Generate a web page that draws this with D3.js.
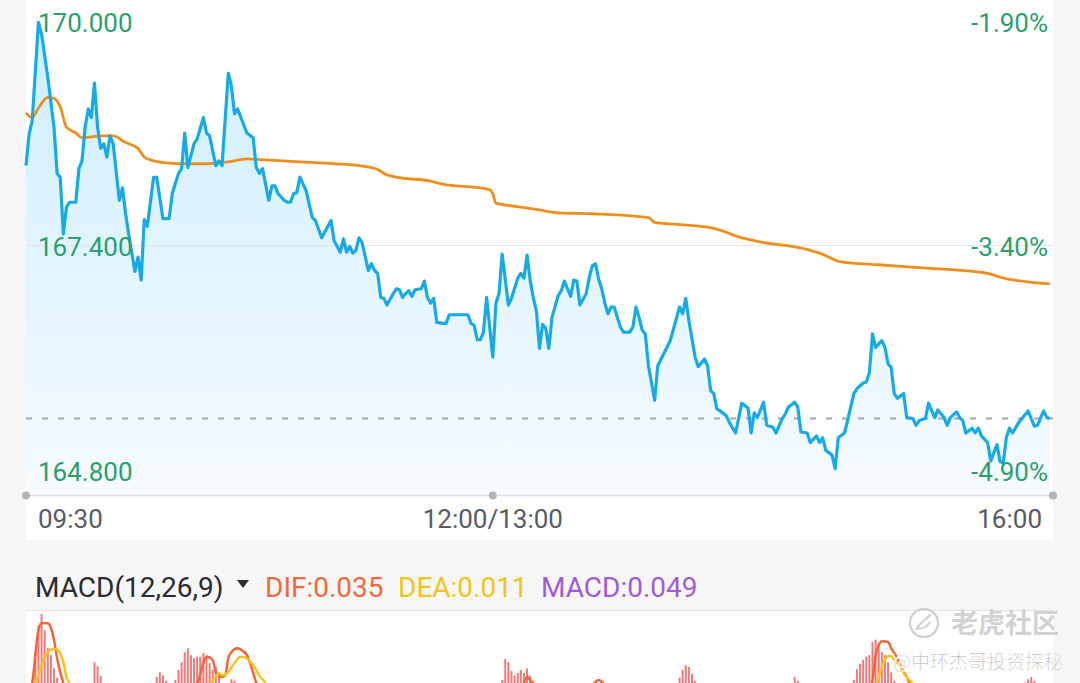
<!DOCTYPE html>
<html lang="zh">
<head>
<meta charset="utf-8">
<title>分时图 MACD</title>
<script src="https://d3js.org/d3.v7.min.js"></script>
<style>
  body { margin: 0; background: #f6f6f6; }
  svg { display: block; font-family: Roboto, "Noto Sans", sans-serif; }
</style>
</head>
<body>
<script>
// price data: trading minute since 09:30 (lunch break removed) and last price
var priceMinutes = [0,1,2,4,5,7,9,10,11,12,13,14,16,17,18,19,20,21,22,23,24,25,26,27,28,30,31,32,33,35,36,37,38,39,41,42,44,46,47,49,50,51,52,54,55,57,58,59,61,62,63,65,66,67,68,71,73,74,75,76,78,79,80,81,83,84,85,86,87,88,90,92,93,95,98,99,101,102,103,104,105,106,107,108,110,111,112,113,114,115,116,118,119,120,121,122,123,124,125,127,128,129,130,131,132,134,135,136,142,143,144,145,146,147,148,150,151,152,153,155,156,158,159,160,161,162,163,164,165,166,167,168,169,171,172,173,174,175,176,177,178,180,181,182,183,184,185,186,187,188,189,191,192,194,195,196,197,198,199,200,202,203,207,210,211,212,213,215,216,218,219,220,221,222,223,225,226,228,230,232,233,234,235,237,238,240,241,243,244,245,247,248,249,251,252,254,255,256,257,259,260,261,263,264,266,267,269,270,271,272,273,275,276,277,278,279,280,282,283,285,286,287,289,290,292,293,295,296,297,299,300,301,302,304,305,306,307,309,310,312,313,314,315,316,317,319,320,322,324,325,327,328,329];
var prices = [168.23,168.56,168.70,169.72,169.60,169.15,168.63,168.15,168.11,167.52,167.80,167.85,167.85,168.20,168.28,168.63,168.82,168.73,169.09,168.63,168.41,168.46,168.32,168.54,168.46,167.87,168.00,167.73,167.52,167.13,167.28,167.04,167.67,167.60,168.11,168.11,167.68,167.68,167.94,168.15,168.20,168.57,168.21,168.46,168.51,168.73,168.57,168.54,168.23,168.28,168.23,169.19,169.06,168.77,168.82,168.57,168.52,168.21,168.15,168.20,167.87,168.02,168.02,167.94,167.87,167.85,167.85,167.94,167.95,168.11,167.97,167.69,167.66,167.48,167.66,167.45,167.33,167.47,167.33,167.39,167.32,167.35,167.48,167.43,167.14,167.21,167.14,167.11,166.86,166.85,166.78,166.90,166.95,166.94,166.86,166.90,166.93,166.87,166.94,166.95,167.03,166.86,166.80,166.85,166.60,166.59,166.59,166.68,166.68,166.59,166.57,166.42,166.42,166.50,166.86,166.24,166.80,166.90,167.31,166.78,166.85,167.06,167.11,167.06,167.30,167.04,166.86,166.72,166.33,166.58,166.54,166.33,166.65,166.88,166.93,167.03,166.95,166.87,167.04,167.03,166.78,166.90,167.07,167.19,167.21,167.05,166.95,166.80,166.69,166.76,166.76,166.55,166.50,166.50,166.55,166.76,166.65,166.52,166.48,166.15,165.79,166.15,166.41,166.76,166.69,166.85,166.62,166.24,166.14,166.22,166.15,165.89,165.86,165.70,165.68,165.63,165.56,165.45,165.76,165.71,165.45,165.66,165.61,165.77,165.53,165.51,165.45,165.60,165.65,165.72,165.77,165.72,165.46,165.45,165.35,165.42,165.35,165.40,165.27,165.22,165.08,165.40,165.45,165.58,165.86,165.91,165.97,165.98,166.08,166.48,166.34,166.41,166.34,166.17,166.13,165.86,165.81,165.86,165.61,165.60,165.53,165.58,165.60,165.76,165.61,165.69,165.61,165.53,165.61,165.67,165.61,165.58,165.45,165.50,165.45,165.50,165.42,165.35,165.16,165.33,165.15,165.14,165.40,165.50,165.45,165.56,165.60,165.68,165.52,165.53,165.68,165.61,165.60];

// average price line
var avgMinutes = [0,2,4,7,9,11,13,16,18,24,28,32,36,38,40,45,52,58,65,71,77,88,99,107,113,115,119,130,135,143,149,150,151,159,165,171,182,200,202,209,219,223,229,234,252,255,262,274,287,309,313,329];
var avgPrices = [168.78,168.73,168.83,168.94,168.93,168.84,168.63,168.57,168.52,168.54,168.54,168.47,168.41,168.32,168.29,168.26,168.25,168.25,168.27,168.30,168.29,168.27,168.25,168.23,168.19,168.15,168.11,168.07,168.03,168.01,167.98,167.94,167.84,167.80,167.77,167.74,167.73,167.69,167.64,167.62,167.59,167.56,167.49,167.45,167.35,167.32,167.23,167.20,167.17,167.11,167.07,167.00];

var priceTicks = [170.000, 167.400, 164.800];
var pctLabels = ["-1.90%", "-3.40%", "-4.90%"];
var timeTickMinutes = [0, 150, 330];
var timeTickLabels = ["09:30", "12:00/13:00", "16:00"];

// MACD histogram (only the part that shows above the panel edge)
var barMinutes = [2,3,4,5,6,7,8,9,10,21,22,23,24,42,43,44,45,48,49,50,51,52,53,54,55,56,57,58,59,60,61,62,66,67,153,154,155,156,157,158,159,160,161,162,163,210,211,212,213,214,215,246,247,248,266,267,268,269,270,271,272,273,274,275,276,277,278,279,321,322,323,324];
var barValues = [0.044,0.081,0.115,0.130,0.109,0.086,0.077,0.060,0.048,0.041,0.068,0.063,0.050,0.049,0.055,0.051,0.044,0.045,0.058,0.068,0.081,0.086,0.077,0.073,0.075,0.075,0.080,0.077,0.067,0.058,0.062,0.051,0.046,0.044,0.045,0.072,0.068,0.057,0.051,0.054,0.058,0.054,0.060,0.051,0.044,0.048,0.058,0.064,0.062,0.053,0.044,0.041,0.049,0.044,0.045,0.059,0.066,0.071,0.075,0.077,0.094,0.097,0.090,0.081,0.077,0.068,0.055,0.044,0.042,0.046,0.049,0.044];

var difMinutes = [0,2,4,5,7,8,9,10,12,14,20,30,40,50,55,57,58,60,61,63,64,65,66,68,69,71,72,74,76,90,120,150,158,160,161,163,166,175,182,184,186,200,230,260,268,271,272,273,274,275,277,278,280,281,283,284,286,300,329];
var difValues = [0.010,0.041,0.109,0.118,0.118,0.112,0.097,0.073,0.041,0.019,0.005,0.010,0.020,0.030,0.041,0.067,0.075,0.071,0.055,0.049,0.051,0.073,0.081,0.086,0.084,0.077,0.067,0.041,0.020,0.000,0.000,0.020,0.030,0.041,0.049,0.039,0.030,0.030,0.039,0.045,0.039,0.020,0.000,0.010,0.020,0.035,0.045,0.077,0.090,0.095,0.094,0.086,0.073,0.063,0.049,0.040,0.025,0.020,0.035];

var deaMinutes = [0,3,5,7,9,10,12,13,14,16,30,45,59,61,62,63,65,67,69,71,73,75,77,80,120,160,200,250,273,275,276,277,278,279,281,282,285,288,310,329];
var deaValues = [0.020,0.041,0.064,0.081,0.085,0.084,0.068,0.049,0.040,0.020,0.015,0.020,0.041,0.049,0.054,0.051,0.055,0.067,0.075,0.073,0.064,0.051,0.041,0.020,0.020,0.025,0.020,0.015,0.039,0.062,0.071,0.076,0.076,0.071,0.062,0.054,0.040,0.020,0.010,0.011];

var macdTitle = "MACD(12,26,9)";
var difLast = 0.035, deaLast = 0.011, macdLast = 0.049;

var w = 1080, h = 683;
var left = 26, right = 1053;
var green = "#2b9f6c";

var svg = d3.select("body").append("svg").attr("width", w).attr("height", h);

svg.append("rect").attr("width", w).attr("height", h).attr("fill", "#f6f6f6");
svg.append("rect").attr("x", left).attr("y", 0).attr("width", right - left).attr("height", 540).attr("fill", "#fff");
svg.append("rect").attr("x", left).attr("y", 611).attr("width", right - left).attr("height", h - 611).attr("fill", "#fff");
svg.append("line").attr("x1", left).attr("x2", right).attr("y1", 610.5).attr("y2", 610.5)
  .attr("stroke", "#e2e2e2").attr("stroke-width", 1);

var x = d3.scaleLinear().domain([0, 330]).range([left, right]);
var y = d3.scaleLinear().domain([164.8, 170]).range([495.5, -4.5]);

var pts = priceMinutes.map(function (m, i) { return { m: m, p: prices[i] }; });
var avgPts = avgMinutes.map(function (m, i) { return { m: m, p: avgPrices[i] }; });

// gradient for the area
var defs = svg.append("defs");
var grad = defs.append("linearGradient").attr("id", "fillGrad")
  .attr("gradientUnits", "userSpaceOnUse")
  .attr("x1", 0).attr("y1", 0).attr("x2", 0).attr("y2", y(164.8));
grad.append("stop").attr("offset", "0%").attr("stop-color", "#cbedfc");
grad.append("stop").attr("offset", "100%").attr("stop-color", "#f6fbff");

var area = d3.area().x(function (d) { return x(d.m); }).y0(y(164.8)).y1(function (d) { return y(d.p); });
svg.append("path").datum(pts).attr("d", area).attr("fill", "url(#fillGrad)");

// grid + axis line
svg.append("line").attr("x1", left).attr("x2", right).attr("y1", y(167.4)).attr("y2", y(167.4))
  .attr("stroke", "#e3e3e3").attr("stroke-width", 1);
svg.append("line").attr("x1", left).attr("x2", right).attr("y1", y(164.8)).attr("y2", y(164.8))
  .attr("stroke", "#dedede").attr("stroke-width", 1.5);
svg.selectAll("circle.tick").data(timeTickMinutes).enter().append("circle")
  .attr("cx", function (d) { return x(d); }).attr("cy", y(164.8)).attr("r", 4).attr("fill", "#b3b3b3");

// last price dashed line
var last = prices[prices.length - 1];
svg.append("line").attr("x1", left).attr("x2", right).attr("y1", y(last)).attr("y2", y(last))
  .attr("stroke", "#a3a7b0").attr("stroke-width", 2).attr("stroke-dasharray", "6,10");

var line = d3.line().x(function (d) { return x(d.m); }).y(function (d) { return y(d.p); });
svg.append("path").datum(avgPts).attr("d", line.curve(d3.curveMonotoneX)).attr("fill", "none")
  .attr("stroke", "#ee8e1c").attr("stroke-width", 2.8);
svg.append("path").datum(pts).attr("d", line.curve(d3.curveLinear)).attr("fill", "none")
  .attr("stroke", "#17abe6").attr("stroke-width", 3.2).attr("stroke-linejoin", "round");

// price labels
var baseY = [32, 256, 481];
priceTicks.forEach(function (t, i) {
  svg.append("text").attr("x", 38).attr("y", baseY[i]).attr("font-size", 26).attr("fill", green)
    .text(t.toFixed(3));
  svg.append("text").attr("x", 1048).attr("y", baseY[i]).attr("font-size", 26).attr("fill", green)
    .attr("text-anchor", "end").text(pctLabels[i]);
});

// time labels
timeTickMinutes.forEach(function (m, i) {
  var anchor = i === 0 ? "start" : (i === timeTickMinutes.length - 1 ? "end" : "middle");
  var tx = i === 0 ? x(m) + 12 : (i === timeTickMinutes.length - 1 ? x(m) - 11 : x(m));
  svg.append("text").attr("x", tx).attr("y", 528).attr("font-size", 26).attr("fill", "#585b66")
    .attr("text-anchor", anchor).text(timeTickLabels[i]);
});

// MACD header
svg.append("text").attr("x", 35).attr("y", 597).attr("font-size", 28).attr("fill", "#2a2b33").text(macdTitle);
svg.append("path").attr("d", "M237,580 L249,580 L243,588 Z").attr("fill", "#2a2b33");
svg.append("text").attr("x", 265).attr("y", 597).attr("font-size", 28).attr("fill", "#ee6a3c").text("DIF:" + difLast.toFixed(3));
svg.append("text").attr("x", 398).attr("y", 597).attr("font-size", 28).attr("fill", "#f0c419").text("DEA:" + deaLast.toFixed(3));
svg.append("text").attr("x", 541).attr("y", 597).attr("font-size", 28).attr("fill", "#a25bd6").text("MACD:" + macdLast.toFixed(3));

// MACD panel
defs.append("clipPath").attr("id", "macdClip").append("rect")
  .attr("x", left).attr("y", 611).attr("width", right - left).attr("height", h - 611);
var my = d3.scaleLinear().domain([0, 0.13]).range([715, 614]);
var macd = svg.append("g").attr("clip-path", "url(#macdClip)");

macd.selectAll("rect.bar").data(barMinutes).enter().append("rect")
  .attr("x", function (d) { return x(d) - 1; })
  .attr("y", function (d, i) { return my(barValues[i]); })
  .attr("width", 2)
  .attr("height", function (d, i) { return my(0) - my(barValues[i]); })
  .attr("fill", "#f07a7a");

var mline = d3.line().x(function (d) { return x(d[0]); }).y(function (d) { return my(d[1]); }).curve(d3.curveMonotoneX);
macd.append("path").datum(difMinutes.map(function (m, i) { return [m, difValues[i]]; }))
  .attr("d", mline).attr("fill", "none").attr("stroke", "#f0663a").attr("stroke-width", 2.5);
macd.append("path").datum(deaMinutes.map(function (m, i) { return [m, deaValues[i]]; }))
  .attr("d", mline).attr("fill", "none").attr("stroke", "#f4c41a").attr("stroke-width", 2.5);

// watermark
var wm = svg.append("g");
wm.append("circle").attr("cx", 924).attr("cy", 623).attr("r", 14).attr("fill", "none")
  .attr("stroke", "#cfcfcf").attr("stroke-width", 2.2);
wm.append("path").attr("d", "M916,630 C920,622 926,620 931,614 M918,628 C922,630 928,626 930,622")
  .attr("fill", "none").attr("stroke", "#cfcfcf").attr("stroke-width", 2);
wm.append("text").attr("x", 951).attr("y", 633).attr("font-size", 27).attr("font-weight", "bold")
  .attr("font-family", "'Noto Sans CJK SC', sans-serif").attr("fill", "#d2d2d2").text("老虎社区");
wm.append("text").attr("x", 893).attr("y", 669).attr("font-size", 19)
  .attr("font-family", "'Noto Sans CJK SC', sans-serif").attr("fill", "#bdbdbd")
  .attr("stroke", "#ffffff").attr("stroke-width", 0.6).text("@中环杰哥投资探秘");
</script>
</body>
</html>
